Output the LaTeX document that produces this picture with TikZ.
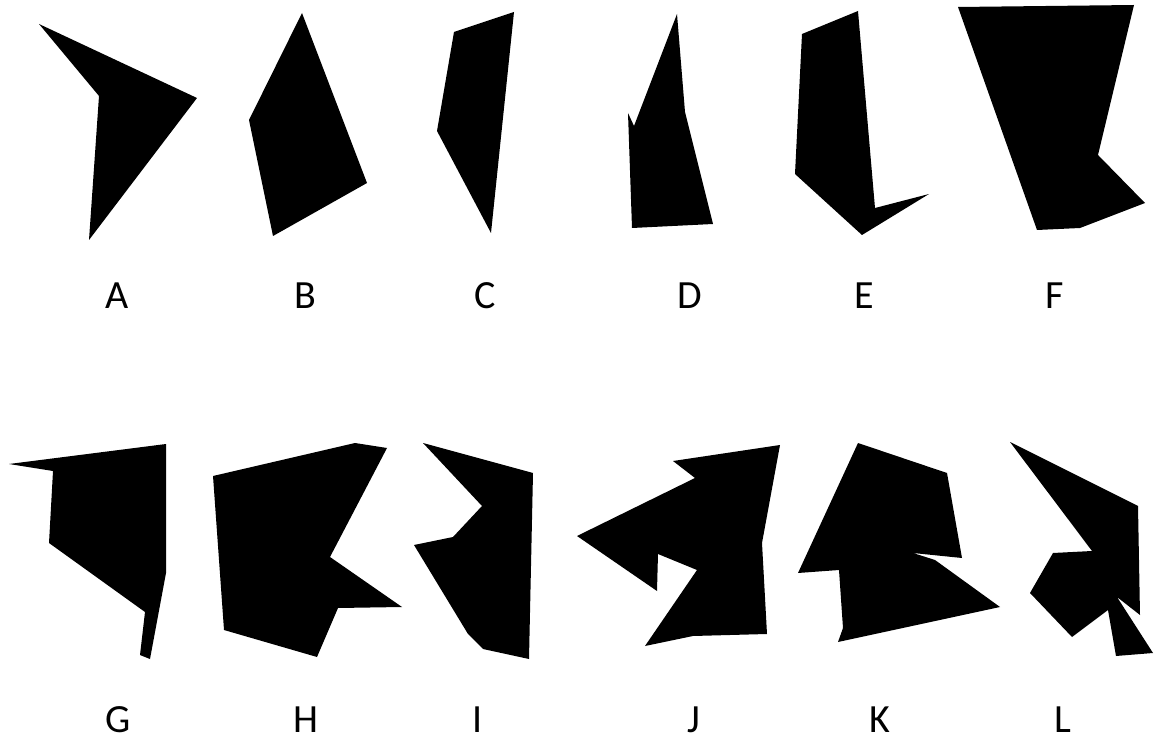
\documentclass[tikz,border=0pt]{standalone}
\usepackage{fontspec}
\setmainfont{Carlito}
\tikzset{
  polyfill/.style={fill=black, draw=none},
  lab/.style={anchor=base, inner sep=0pt, font=\fontsize{40}{44}\selectfont}
}
\begin{document}
\begin{tikzpicture}[x=1pt,y=-1pt]
\useasboundingbox (0,0) rectangle (1160,743);
% A
\fill[polyfill] (39,24) -- (197,98) -- (89,240) -- (99,96) -- cycle;
% B
\fill[polyfill] (302,13) -- (367,183) -- (273,236) -- (249,120) -- cycle;
% C
\fill[polyfill] (514,12) -- (491,233) -- (437,131) -- (454,32) -- cycle;
% D
\fill[polyfill] (677,14) -- (685,112) -- (713,224) -- (632,228) -- (628,113) -- (634,126) -- cycle;
% E
\fill[polyfill] (858,11) -- (875,208) -- (929,194) -- (862,235) -- (795,174) -- (802,34) -- cycle;
% F
\fill[polyfill] (958,7) -- (1134,5) -- (1098,155) -- (1145,203) -- (1080,228) -- (1037,230) -- cycle;
% G
\fill[polyfill] (9,464) -- (166,444) -- (166,573) -- (150,659) -- (140,655) -- (145,612) -- (49,543) -- (53,471) -- cycle;
% H
\fill[polyfill] (213,476) -- (355,443) -- (387,448) -- (330,557) -- (402,607) -- (338,608) -- (317,657) -- (224,630) -- cycle;
% I
\fill[polyfill] (423,443) -- (533,473) -- (529,659) -- (483,649) -- (468,634) -- (414,545) -- (453,537) -- (482,506) -- cycle;
% J
\fill[polyfill] (673,461) -- (780,445) -- (762,543) -- (767,634) -- (693,636) -- (645,646) -- (697,570) -- (658,554) -- (657,591) -- (577,536) -- (695,478) -- cycle;
% K
\fill[polyfill] (858,443) -- (947,473) -- (962,558) -- (913,553) -- (935,560) -- (1000,607) -- (838,642) -- (843,628) -- (839,570) -- (798,573) -- cycle;
% L
\fill[polyfill] (1010,442) -- (1138,506) -- (1140,615) -- (1117,597) -- (1153,653) -- (1116,656) -- (1108,610) -- (1072,637) -- (1030,593) -- (1053,553) -- (1092,551) -- cycle;
% labels
\node[lab] (la) at (117,309) {A};
\node[lab] (lb) at (305,309) {B};
\node[lab] (lc) at (485,309) {C};
\node[lab] (ld) at (690,309) {D};
\node[lab] (le) at (864,309) {E};
\node[lab] (lf) at (1055,309) {F};
\node[lab] (lg) at (118,732) {G};
\node[lab] (lh) at (306,732) {H};
\node[lab] (li) at (478,732) {I};
\node[lab] (lj) at (694,732) {J};
\node[lab] (lk) at (880,732) {K};
\node[lab] (ll) at (1063,732) {L};
\end{tikzpicture}
\end{document}
